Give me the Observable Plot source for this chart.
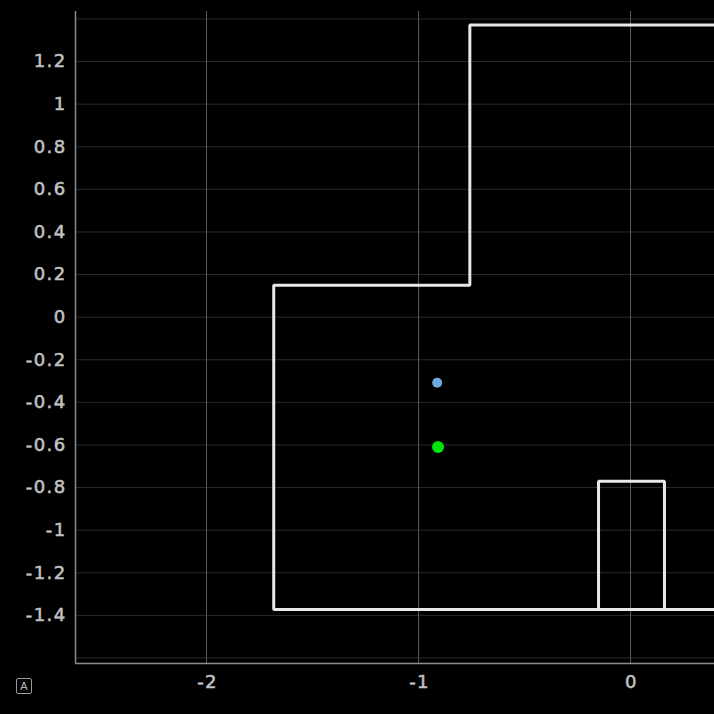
<!DOCTYPE html>
<html>
<head>
<meta charset="utf-8">
<script src="https://cdn.jsdelivr.net/npm/d3@7"></script>
<script src="https://cdn.jsdelivr.net/npm/@observablehq/plot@0.6"></script>
<style>
  html, body { margin: 0; padding: 0; background: #000; }
  #wrap { position: relative; width: 714px; height: 714px; }
  #badge { position: absolute; left: 16px; top: 678px; width: 14px; height: 14px;
    border: 1px solid #9a9a9a; border-radius: 2px; color: #bbb;
    font: 11px "Liberation Sans", sans-serif; line-height: 14px; text-align: center; }
  #chart text { letter-spacing: 1.4px; font-weight: normal; stroke: #c0c0c0; stroke-width: 0.55px; }
</style>
</head>
<body>
<div id="wrap"><div id="chart"></div><div id="badge">A</div></div>
<script>
// Outline polygon (runs off the right edge of the plot)
const outlineX = [0.6, -0.758, -0.758, -1.683, -1.683, 0.6];
const outlineY = [1.372, 1.372, 0.15, 0.15, -1.373, -1.373];
// Small rectangle
const rectX = [-0.151, -0.151, 0.16, 0.16, -0.151];
const rectY = [-1.373, -0.77, -0.77, -1.373, -1.373];
// Points
const pointNames = ["blue", "green"];
const pointX = [-0.912, -0.908];
const pointY = [-0.308, -0.61];
const pointColors = ["#6fa8dc", "#00e60a"];
const pointR = [5, 6];
// Ticks
const xTicks = [-2, -1, 0];
const yGrid = [-1.6, -1.4, -1.2, -1, -0.8, -0.6, -0.4, -0.2, 0, 0.2, 0.4, 0.6, 0.8, 1, 1.2, 1.4];
const yLabels = [-1.4, -1.2, -1, -0.8, -0.6, -0.4, -0.2, 0, 0.2, 0.4, 0.6, 0.8, 1, 1.2];

const xDomain = [-2.618, 0.396];
const yDomain = [-1.626, 1.435];

const shapes = [
  ...outlineX.map((x, i) => ({x, y: outlineY[i], s: "outline"})),
  ...rectX.map((x, i) => ({x, y: rectY[i], s: "rect"}))
];
const points = pointNames.map((n, i) => ({n, x: pointX[i], y: pointY[i], c: pointColors[i], r: pointR[i]}));
const fmt = d => String(+d.toFixed(1));

const chart = Plot.plot({
  width: 714,
  height: 714,
  marginLeft: 75,
  marginTop: 11,
  marginRight: 0,
  marginBottom: 51,
  style: {background: "#000", color: "#c0c0c0", fontFamily: "'DejaVu Sans', sans-serif", fontSize: "18px"},
  x: {domain: xDomain, label: null},
  y: {domain: yDomain, label: null},
  marks: [
    Plot.gridY(yGrid, {stroke: "#2a2a2a", strokeOpacity: 1, strokeWidth: 1}),
    Plot.gridX(xTicks, {stroke: "#5a5a5a", strokeOpacity: 1, strokeWidth: 1}),
    Plot.ruleX([xDomain[0]], {stroke: "#8a8a8a", strokeWidth: 1.5}),
    Plot.ruleY([yDomain[0]], {stroke: "#8a8a8a", strokeWidth: 1.5}),
    Plot.axisY(yLabels, {tickSize: 0, tickPadding: 9, tickFormat: fmt, fontSize: 18, fill: "#c0c0c0"}),
    Plot.axisX(xTicks, {tickSize: 0, tickPadding: 12, tickFormat: fmt, fontSize: 18, fill: "#c0c0c0", dx: 1}),
    Plot.line(shapes, {x: "x", y: "y", z: "s", stroke: "#e8e8e8", strokeWidth: 3, clip: true, strokeLinejoin: "miter"}),
    Plot.dot(points, {x: "x", y: "y", r: "r", fill: "c", stroke: null})
  ],
  r: {type: "identity"}
});
document.getElementById("chart").appendChild(chart);
</script>
</body>
</html>
